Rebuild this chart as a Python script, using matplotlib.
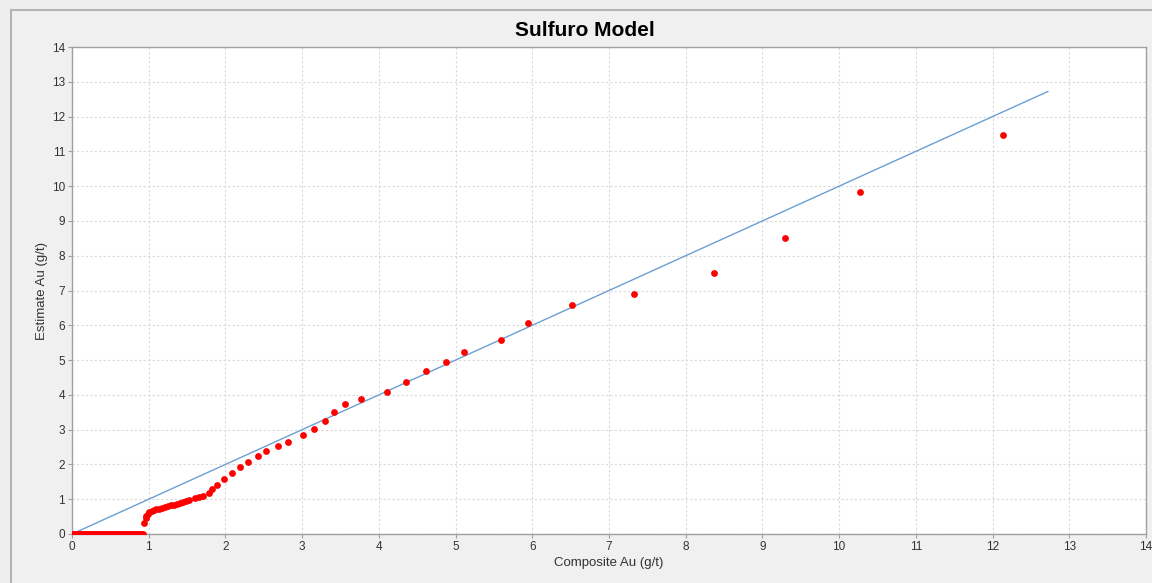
import matplotlib
matplotlib.use("Agg")
import matplotlib.pyplot as plt
from matplotlib.patches import Rectangle

plt.rcParams["font.family"] = ["Liberation Sans", "DejaVu Sans"]

# composites with zero estimate (dense band on the x axis)
zero_x = [0.00, 0.02, 0.04, 0.06, 0.08, 0.10, 0.12, 0.14, 0.16, 0.18,
          0.20, 0.22, 0.24, 0.26, 0.28, 0.30, 0.32, 0.34, 0.36, 0.38,
          0.40, 0.42, 0.44, 0.46, 0.48, 0.50, 0.52, 0.54, 0.56, 0.58,
          0.60, 0.62, 0.64, 0.66, 0.68, 0.70, 0.72, 0.74, 0.76, 0.78,
          0.80, 0.82, 0.84, 0.86, 0.88, 0.90, 0.92]
zero_y = [0.0] * len(zero_x)

composite = [0.94, 0.96, 0.97, 0.99, 1.01, 1.04, 1.07, 1.10, 1.13, 1.17,
             1.21, 1.25, 1.29, 1.33, 1.37, 1.41, 1.45, 1.49, 1.53, 1.60,
             1.65, 1.71, 1.79, 1.83, 1.89, 1.98, 2.08, 2.19, 2.30, 2.42,
             2.53, 2.68, 2.82, 3.01, 3.15, 3.30, 3.41, 3.56, 3.77, 4.11,
             4.35, 4.62, 4.87, 5.11, 5.59, 5.94, 6.52, 7.33, 8.37, 9.30,
             10.27, 12.14]
estimate = [0.32, 0.47, 0.53, 0.58, 0.62, 0.65, 0.68, 0.71, 0.73, 0.76,
            0.78, 0.80, 0.82, 0.84, 0.87, 0.90, 0.93, 0.96, 0.99, 1.03,
            1.06, 1.10, 1.18, 1.28, 1.41, 1.58, 1.74, 1.93, 2.07, 2.24,
            2.38, 2.54, 2.64, 2.85, 3.03, 3.25, 3.51, 3.73, 3.87, 4.09,
            4.38, 4.68, 4.94, 5.22, 5.58, 6.08, 6.59, 6.91, 7.50, 8.51,
            9.82, 11.47]

ref_line = [0.0, 12.72]
ticks = list(range(0, 15))

fig = plt.figure(figsize=(11.52, 5.83), dpi=100, facecolor="#eeeeee")
panel = Rectangle((11 / 1152, -0.02), 1.0, (583 - 10) / 583 + 0.02,
                  transform=fig.transFigure, facecolor="#f0f0f0",
                  edgecolor="#b4b4b4", linewidth=1.5, zorder=-10)
fig.patches.append(panel)

ax = fig.add_axes([72 / 1152, 49 / 583, (1146 - 72) / 1152, 487 / 583])
ax.set_zorder(5)
ax.set_facecolor("white")

ax.plot(ref_line, ref_line, color="#6b9fd2", linewidth=1.0, zorder=2)
ax.scatter(zero_x, zero_y, s=24, color="#ff0000", linewidths=0, zorder=3)
ax.scatter(composite, estimate, s=24, color="#ff0000", linewidths=0, zorder=3)

ax.set_xlim(0, 14)
ax.set_ylim(0, 14)
ax.set_xticks(ticks)
ax.set_yticks(ticks)
ax.grid(True, color="#d9d9d9", linestyle=(0, (2, 2)), linewidth=0.8)
ax.set_axisbelow(True)

for s in ax.spines.values():
    s.set_color("#a0a0a0")
    s.set_linewidth(1.0)
ax.tick_params(axis="both", colors="#a0a0a0", labelcolor="#333333",
               labelsize=8.5, length=3, width=0.8, pad=2)

fig.text(585 / 1152, 1 - 30 / 583, "Sulfuro Model", fontsize=15,
         fontweight="bold", ha="center", va="center")
ax.set_xlabel("Composite Au (g/t)", fontsize=9.5, color="#333333", labelpad=3)
ax.set_ylabel("Estimate Au (g/t)", fontsize=9.5, color="#333333", labelpad=3)

fig.savefig("out.png", dpi=100, facecolor=fig.get_facecolor())
